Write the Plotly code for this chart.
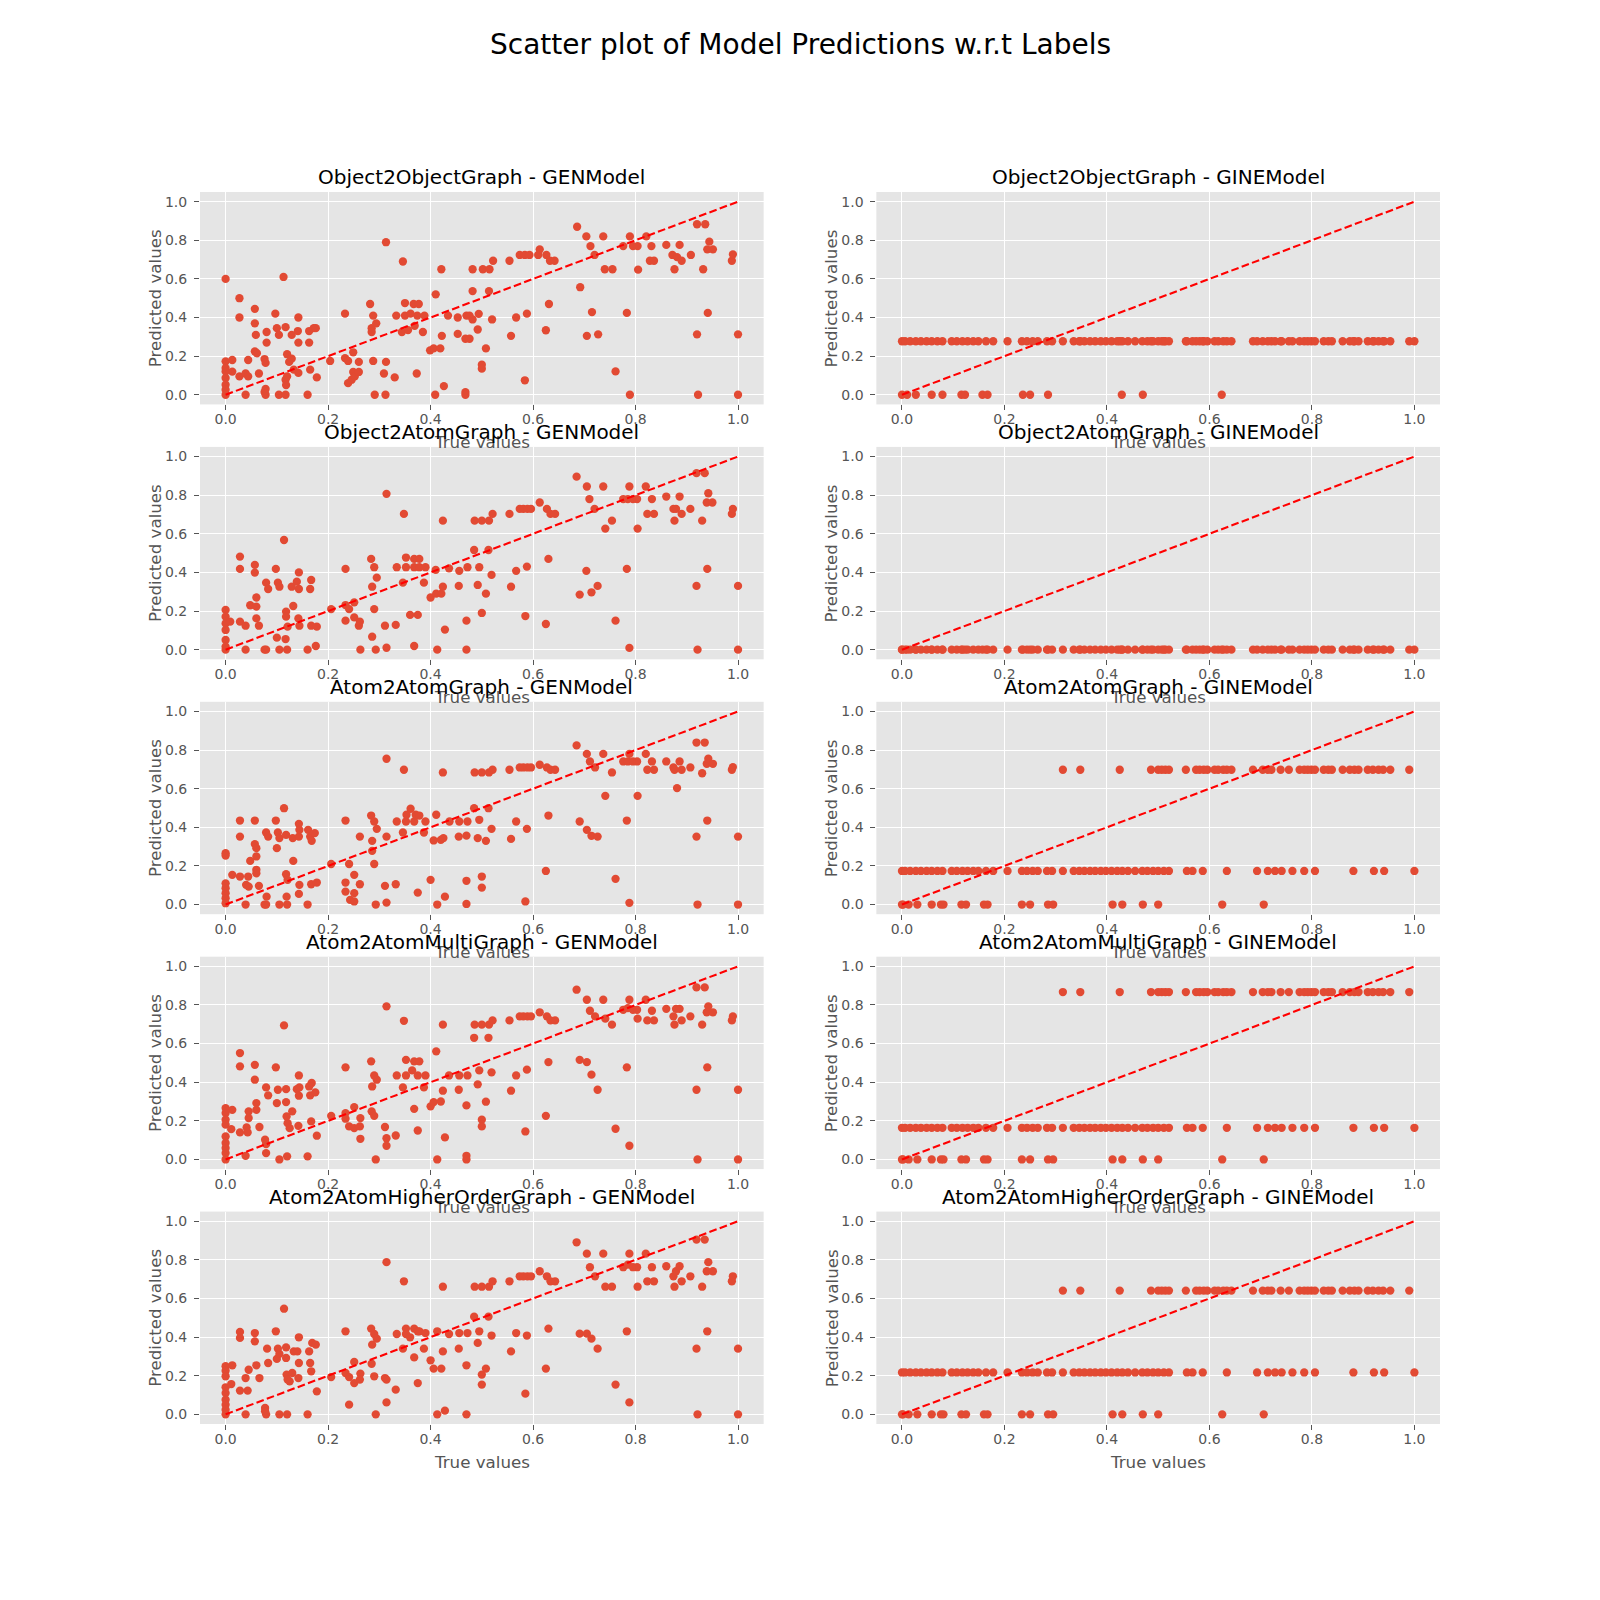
import plotly.graph_objects as go

SUPTITLE = "Scatter plot of Model Predictions w.r.t Labels"
GRAPH_TYPES = [
    "Object2ObjectGraph",
    "Object2AtomGraph",
    "Atom2AtomGraph",
    "Atom2AtomMultiGraph",
    "Atom2AtomHigherOrderGraph",
]
MODELS = ["GENModel", "GINEModel"]
TICK_VALUES = [0.0, 0.2, 0.4, 0.6, 0.8, 1.0]
TICK_LABELS = ["0.0", "0.2", "0.4", "0.6", "0.8", "1.0"]
DIAGONAL = [0.0, 1.0]

# --- GENModel predictions (true value, predicted value) ---
O2O_GEN_X = [
    0.0, 0.0, 0.0, 0.0, 0.0, 0.0, 0.0, 0.0, 0.013, 0.013, 0.027, 0.027, 0.027, 0.039, 0.039, 0.044, 0.044, 0.057, 0.057, 0.057, 0.059, 0.061, 0.065,
    0.076, 0.076, 0.078, 0.078, 0.078, 0.080, 0.080, 0.097, 0.100, 0.104, 0.104, 0.113, 0.117, 0.117, 0.117, 0.118, 0.120, 0.120, 0.124, 0.129, 0.129, 0.133, 0.141, 0.142, 0.142, 0.142,
    0.160, 0.163, 0.163, 0.165, 0.172, 0.176, 0.178, 0.204, 0.233, 0.233, 0.239, 0.239, 0.246, 0.249, 0.249, 0.252, 0.260, 0.260,
    0.282, 0.285, 0.285, 0.288, 0.288, 0.291, 0.294, 0.309, 0.312, 0.313, 0.313, 0.330, 0.333, 0.344, 0.346, 0.350, 0.350, 0.356, 0.361, 0.367, 0.369, 0.373, 0.374, 0.377, 0.385, 0.388,
    0.399, 0.406, 0.409, 0.410, 0.419, 0.421, 0.422, 0.426, 0.434, 0.453, 0.453, 0.468, 0.468, 0.468, 0.470, 0.476, 0.476, 0.482, 0.482, 0.482, 0.492, 0.494, 0.500, 0.500, 0.502, 0.508, 0.514, 0.515, 0.520,
    0.522, 0.554, 0.557, 0.567, 0.574, 0.584, 0.584, 0.588, 0.593, 0.610, 0.613, 0.625, 0.626, 0.631, 0.633, 0.642, 0.686, 0.692, 0.704, 0.705, 0.712, 0.715, 0.720, 0.727, 0.737, 0.740, 0.755, 0.761,
    0.776, 0.783, 0.789, 0.789, 0.795, 0.804, 0.805, 0.821, 0.828, 0.831, 0.836, 0.860, 0.872, 0.876, 0.881, 0.886, 0.890, 0.908, 0.920, 0.920, 0.922, 0.932, 0.936, 0.940, 0.941, 0.944, 0.951, 0.988, 0.990, 1.0, 1.0,
]
O2O_GEN_Y = [
    0.60, 0.173, 0.138, 0.121, 0.087, 0.052, 0.026, 0.0, 0.18, 0.12, 0.50, 0.40, 0.095, 0.11, 0.0, 0.095, 0.18, 0.445, 0.37, 0.225, 0.31, 0.215, 0.11,
    0.185, 0.014, 0.165, 0.0, 0.03, 0.325, 0.27, 0.42, 0.345, 0.31, 0.0, 0.61, 0.35, 0.0, 0.078, 0.05, 0.095, 0.21, 0.17, 0.31, 0.187, 0.13, 0.33, 0.40, 0.27, 0.113,
    0.0, 0.27, 0.33, 0.13, 0.345, 0.345, 0.09, 0.175, 0.42, 0.19, 0.175, 0.06, 0.078, 0.22, 0.118, 0.095, 0.17, 0.118,
    0.47, 0.345, 0.325, 0.41, 0.175, 0.0, 0.37, 0.11, 0.0, 0.79, 0.17, 0.09, 0.41, 0.325, 0.69, 0.475, 0.41, 0.335, 0.42, 0.47, 0.357, 0.11, 0.41, 0.47, 0.325, 0.41,
    0.23, 0.24, 0.0, 0.52, 0.24, 0.65, 0.305, 0.045, 0.41, 0.40, 0.315, 0.29, 0.014, 0.0, 0.41, 0.41, 0.29, 0.537, 0.39, 0.65, 0.338, 0.419, 0.156, 0.135, 0.65, 0.24, 0.537, 0.65, 0.39,
    0.694, 0.694, 0.305, 0.40, 0.724, 0.724, 0.075, 0.42, 0.724, 0.724, 0.753, 0.334, 0.724, 0.47, 0.694, 0.694, 0.87, 0.557, 0.82, 0.305, 0.77, 0.428, 0.724, 0.313, 0.82, 0.65, 0.65, 0.121,
    0.77, 0.424, 0.82, 0.0, 0.77, 0.77, 0.648, 0.82, 0.694, 0.77, 0.694, 0.776, 0.724, 0.65, 0.713, 0.776, 0.694, 0.724, 0.883, 0.313, 0.0, 0.65, 0.883, 0.753, 0.424, 0.793, 0.753, 0.694, 0.727, 0.313, 0.0,
]

O2A_GEN_X = [
    0.0, 0.0, 0.0, 0.0, 0.0, 0.0, 0.0, 0.009, 0.028, 0.028, 0.028, 0.039, 0.039, 0.048, 0.057, 0.057, 0.060, 0.060, 0.060, 0.065,
    0.076, 0.079, 0.079, 0.083, 0.098, 0.100, 0.102, 0.105, 0.105, 0.114, 0.117, 0.118, 0.118, 0.120, 0.121, 0.129, 0.132, 0.139, 0.142, 0.143, 0.143, 0.144,
    0.160, 0.165, 0.167, 0.167, 0.176, 0.178, 0.206, 0.234, 0.234, 0.234, 0.241, 0.251, 0.251, 0.260, 0.262, 0.263,
    0.284, 0.286, 0.286, 0.290, 0.290, 0.293, 0.295, 0.311, 0.314, 0.314, 0.332, 0.334, 0.346, 0.348, 0.352, 0.352, 0.360, 0.368, 0.368, 0.368, 0.375, 0.378, 0.378, 0.387, 0.390,
    0.400, 0.410, 0.411, 0.413, 0.421, 0.424, 0.424, 0.428, 0.436, 0.455, 0.456, 0.470, 0.470, 0.472, 0.485, 0.486, 0.492, 0.495, 0.500, 0.500, 0.508, 0.513, 0.514, 0.519, 0.521,
    0.554, 0.557, 0.567, 0.574, 0.581, 0.585, 0.588, 0.589, 0.596, 0.613, 0.625, 0.627, 0.630, 0.634, 0.643, 0.685, 0.691, 0.704, 0.705, 0.710, 0.714, 0.720, 0.726, 0.737, 0.741, 0.754, 0.761,
    0.776, 0.783, 0.785, 0.788, 0.788, 0.795, 0.803, 0.804, 0.820, 0.823, 0.832, 0.836, 0.860, 0.874, 0.876, 0.879, 0.886, 0.890, 0.907, 0.919, 0.919, 0.921, 0.930, 0.935, 0.939, 0.940, 0.942, 0.950, 0.988, 0.990, 1.0, 1.0,
]
O2A_GEN_Y = [
    0.206, 0.171, 0.136, 0.102, 0.05, 0.016, 0.0, 0.145, 0.482, 0.418, 0.145, 0.124, 0.0, 0.23, 0.439, 0.399, 0.27, 0.223, 0.162, 0.124,
    0.0, 0.347, 0.0, 0.314, 0.418, 0.062, 0.347, 0.326, 0.0, 0.568, 0.055, 0.197, 0.171, 0.0, 0.119, 0.326, 0.226, 0.352, 0.162, 0.40, 0.314, 0.124,
    0.0, 0.314, 0.361, 0.124, 0.019, 0.119, 0.21, 0.418, 0.231, 0.15, 0.21, 0.245, 0.167, 0.124, 0.145, 0.0,
    0.47, 0.326, 0.067, 0.427, 0.21, 0.0, 0.373, 0.124, 0.807, 0.01, 0.128, 0.427, 0.347, 0.703, 0.477, 0.427, 0.18, 0.47, 0.427, 0.019, 0.18, 0.47, 0.427, 0.347, 0.427,
    0.27, 0.413, 0.29, 0.0, 0.29, 0.668, 0.326, 0.104, 0.421, 0.33, 0.408, 0.15, 0.0, 0.427, 0.516, 0.668, 0.335, 0.427, 0.668, 0.19, 0.29, 0.516, 0.668, 0.387, 0.703,
    0.703, 0.326, 0.408, 0.729, 0.729, 0.174, 0.43, 0.729, 0.729, 0.762, 0.133, 0.729, 0.47, 0.703, 0.703, 0.896, 0.285, 0.408, 0.845, 0.78, 0.297, 0.729, 0.33, 0.845, 0.627, 0.668, 0.15,
    0.78, 0.418, 0.78, 0.845, 0.009, 0.78, 0.78, 0.627, 0.845, 0.703, 0.78, 0.703, 0.793, 0.729, 0.668, 0.729, 0.793, 0.703, 0.729, 0.914, 0.33, 0.0, 0.668, 0.914, 0.762, 0.418, 0.81, 0.762, 0.703, 0.729, 0.33, 0.0,
]

A2A_GEN_X = [
    0.0, 0.0, 0.0, 0.0, 0.0, 0.0, 0.0, 0.013, 0.028, 0.028, 0.028, 0.039, 0.040, 0.044, 0.045, 0.048, 0.057, 0.057, 0.060, 0.060, 0.060, 0.060, 0.065,
    0.076, 0.079, 0.079, 0.080, 0.083, 0.098, 0.100, 0.102, 0.105, 0.105, 0.114, 0.118, 0.118, 0.119, 0.120, 0.121, 0.131, 0.132, 0.143, 0.143, 0.143, 0.144, 0.144,
    0.160, 0.161, 0.165, 0.167, 0.168, 0.174, 0.178, 0.206, 0.234, 0.234, 0.234, 0.241, 0.243, 0.251, 0.251, 0.251, 0.262, 0.262,
    0.284, 0.286, 0.286, 0.290, 0.290, 0.293, 0.295, 0.311, 0.314, 0.314, 0.314, 0.332, 0.334, 0.346, 0.348, 0.352, 0.353, 0.361, 0.368, 0.371, 0.375, 0.378, 0.387, 0.390,
    0.400, 0.406, 0.411, 0.413, 0.420, 0.424, 0.425, 0.428, 0.437, 0.455, 0.456, 0.470, 0.470, 0.470, 0.472, 0.485, 0.486, 0.492, 0.495, 0.500, 0.500, 0.500, 0.508, 0.513, 0.514, 0.519, 0.521,
    0.554, 0.557, 0.567, 0.574, 0.581, 0.585, 0.588, 0.589, 0.596, 0.613, 0.625, 0.627, 0.630, 0.634, 0.643, 0.685, 0.691, 0.705, 0.705, 0.711, 0.714, 0.721, 0.726, 0.737, 0.741, 0.754, 0.761,
    0.776, 0.783, 0.785, 0.788, 0.788, 0.795, 0.803, 0.804, 0.820, 0.823, 0.832, 0.836, 0.860, 0.874, 0.876, 0.881, 0.886, 0.890, 0.907, 0.919, 0.919, 0.921, 0.930, 0.935, 0.939, 0.940, 0.942, 0.951, 0.988, 0.990, 1.0, 1.0,
]
A2A_GEN_Y = [
    0.266, 0.254, 0.11, 0.085, 0.059, 0.033, 0.007, 0.154, 0.435, 0.352, 0.145, 0.0, 0.102, 0.145, 0.093, 0.226, 0.435, 0.313, 0.292, 0.249, 0.18, 0.162, 0.097,
    0.0, 0.373, 0.0, 0.041, 0.352, 0.435, 0.292, 0.373, 0.344, 0.0, 0.499, 0.361, 0.157, 0.041, 0.0, 0.128, 0.344, 0.226, 0.418, 0.352, 0.055, 0.387, 0.102,
    0.0, 0.387, 0.352, 0.105, 0.33, 0.37, 0.114, 0.21, 0.435, 0.114, 0.067, 0.21, 0.024, 0.154, 0.059, 0.016, 0.352, 0.105,
    0.461, 0.33, 0.278, 0.43, 0.21, 0.0, 0.392, 0.097, 0.755, 0.352, 0.01, 0.105, 0.43, 0.373, 0.698, 0.43, 0.465, 0.496, 0.43, 0.465, 0.062, 0.461, 0.373, 0.43,
    0.128, 0.332, 0.465, 0.0, 0.335, 0.684, 0.344, 0.041, 0.43, 0.352, 0.43, 0.357, 0.123, 0.003, 0.43, 0.499, 0.684, 0.344, 0.439, 0.684, 0.145, 0.088, 0.33, 0.499, 0.684, 0.392, 0.698,
    0.698, 0.34, 0.43, 0.71, 0.71, 0.016, 0.392, 0.71, 0.71, 0.724, 0.174, 0.71, 0.461, 0.698, 0.698, 0.824, 0.43, 0.78, 0.387, 0.741, 0.356, 0.71, 0.352, 0.78, 0.563, 0.684, 0.133,
    0.741, 0.435, 0.741, 0.78, 0.009, 0.741, 0.741, 0.563, 0.78, 0.698, 0.741, 0.698, 0.741, 0.71, 0.698, 0.603, 0.741, 0.698, 0.71, 0.839, 0.352, 0.0, 0.68, 0.839, 0.729, 0.435, 0.755, 0.729, 0.698, 0.712, 0.352, 0.0,
]

A2AM_GEN_X = [
    0.0, 0.0, 0.0, 0.0, 0.0, 0.0, 0.0, 0.0, 0.0, 0.011, 0.013, 0.028, 0.028, 0.028, 0.039, 0.041, 0.043, 0.045, 0.045, 0.057, 0.057, 0.060, 0.060, 0.066,
    0.077, 0.079, 0.079, 0.079, 0.083, 0.098, 0.100, 0.102, 0.105, 0.114, 0.118, 0.118, 0.119, 0.120, 0.121, 0.125, 0.130, 0.139, 0.142, 0.143, 0.143, 0.144,
    0.160, 0.163, 0.165, 0.167, 0.168, 0.175, 0.178, 0.206, 0.234, 0.234, 0.234, 0.241, 0.251, 0.251, 0.262, 0.263, 0.263,
    0.284, 0.285, 0.286, 0.290, 0.290, 0.293, 0.295, 0.311, 0.314, 0.314, 0.314, 0.332, 0.334, 0.346, 0.348, 0.352, 0.352, 0.364, 0.368, 0.368, 0.375, 0.375, 0.378, 0.387, 0.390,
    0.400, 0.406, 0.411, 0.413, 0.420, 0.424, 0.424, 0.428, 0.436, 0.455, 0.456, 0.470, 0.470, 0.470, 0.472, 0.485, 0.486, 0.492, 0.495, 0.500, 0.500, 0.500, 0.508, 0.513, 0.514, 0.519, 0.521,
    0.554, 0.557, 0.567, 0.574, 0.581, 0.585, 0.588, 0.589, 0.596, 0.613, 0.625, 0.627, 0.630, 0.634, 0.643, 0.685, 0.691, 0.705, 0.705, 0.711, 0.714, 0.721, 0.726, 0.737, 0.741, 0.754, 0.761,
    0.776, 0.783, 0.785, 0.788, 0.788, 0.795, 0.803, 0.804, 0.820, 0.823, 0.832, 0.836, 0.860, 0.874, 0.876, 0.879, 0.886, 0.890, 0.907, 0.919, 0.919, 0.921, 0.930, 0.935, 0.939, 0.940, 0.942, 0.951, 0.988, 0.990, 1.0, 1.0,
]
A2AM_GEN_Y = [
    0.266, 0.24, 0.206, 0.18, 0.119, 0.085, 0.059, 0.033, 0.0, 0.157, 0.257, 0.551, 0.482, 0.14, 0.019, 0.166, 0.14, 0.249, 0.214, 0.49, 0.413, 0.292, 0.257, 0.168,
    0.102, 0.373, 0.079, 0.033, 0.332, 0.477, 0.292, 0.361, 0.0, 0.694, 0.364, 0.297, 0.223, 0.016, 0.188, 0.162, 0.249, 0.364, 0.174, 0.435, 0.33, 0.373,
    0.016, 0.378, 0.332, 0.197, 0.396, 0.347, 0.123, 0.226, 0.477, 0.24, 0.211, 0.171, 0.271, 0.162, 0.171, 0.214, 0.107,
    0.508, 0.249, 0.378, 0.435, 0.226, 0.0, 0.413, 0.168, 0.793, 0.11, 0.071, 0.124, 0.435, 0.373, 0.718, 0.516, 0.435, 0.461, 0.508, 0.262, 0.435, 0.15, 0.508, 0.373, 0.435,
    0.275, 0.297, 0.56, 0.0, 0.3, 0.698, 0.356, 0.114, 0.435, 0.361, 0.435, 0.28, 0.019, 0.0, 0.435, 0.63, 0.698, 0.389, 0.461, 0.698, 0.206, 0.171, 0.299, 0.63, 0.698, 0.451, 0.72,
    0.72, 0.356, 0.435, 0.741, 0.741, 0.145, 0.465, 0.741, 0.741, 0.762, 0.226, 0.741, 0.504, 0.72, 0.72, 0.879, 0.516, 0.827, 0.504, 0.77, 0.439, 0.741, 0.361, 0.827, 0.729, 0.698, 0.159,
    0.775, 0.477, 0.784, 0.827, 0.071, 0.775, 0.775, 0.729, 0.827, 0.72, 0.77, 0.72, 0.78, 0.741, 0.698, 0.78, 0.78, 0.72, 0.741, 0.891, 0.361, 0.0, 0.698, 0.891, 0.762, 0.477, 0.793, 0.762, 0.72, 0.741, 0.361, 0.0,
]

A2AH_GEN_X = [
    0.0, 0.0, 0.0, 0.0, 0.0, 0.0, 0.0, 0.0, 0.0, 0.011, 0.013, 0.028, 0.028, 0.028, 0.039, 0.039, 0.043, 0.045, 0.057, 0.057, 0.060, 0.066,
    0.077, 0.077, 0.079, 0.081, 0.083, 0.098, 0.100, 0.102, 0.105, 0.105, 0.114, 0.118, 0.118, 0.119, 0.120, 0.121, 0.125, 0.130, 0.133, 0.140, 0.142, 0.143, 0.143,
    0.160, 0.163, 0.165, 0.167, 0.169, 0.176, 0.178, 0.206, 0.234, 0.234, 0.241, 0.241, 0.251, 0.251, 0.262, 0.263,
    0.284, 0.285, 0.286, 0.290, 0.290, 0.293, 0.295, 0.311, 0.314, 0.314, 0.314, 0.332, 0.334, 0.346, 0.348, 0.352, 0.352, 0.360, 0.368, 0.368, 0.375, 0.375, 0.378, 0.387, 0.390,
    0.400, 0.406, 0.413, 0.413, 0.421, 0.424, 0.424, 0.428, 0.436, 0.455, 0.456, 0.470, 0.470, 0.472, 0.485, 0.486, 0.492, 0.495, 0.500, 0.500, 0.500, 0.508, 0.513, 0.514, 0.519, 0.521,
    0.554, 0.557, 0.567, 0.574, 0.581, 0.585, 0.588, 0.589, 0.596, 0.613, 0.625, 0.627, 0.630, 0.634, 0.643, 0.685, 0.691, 0.705, 0.705, 0.711, 0.714, 0.721, 0.726, 0.737, 0.741, 0.754, 0.761,
    0.776, 0.783, 0.785, 0.788, 0.788, 0.795, 0.803, 0.804, 0.820, 0.823, 0.832, 0.836, 0.860, 0.874, 0.876, 0.879, 0.886, 0.890, 0.907, 0.919, 0.919, 0.921, 0.930, 0.935, 0.939, 0.940, 0.942, 0.951, 0.988, 0.990, 1.0, 1.0,
]
A2AH_GEN_Y = [
    0.249, 0.226, 0.197, 0.14, 0.11, 0.076, 0.05, 0.024, 0.0, 0.157, 0.254, 0.427, 0.396, 0.123, 0.188, 0.0, 0.123, 0.231, 0.421, 0.378, 0.254, 0.188,
    0.033, 0.016, 0.0, 0.34, 0.266, 0.43, 0.287, 0.34, 0.313, 0.0, 0.547, 0.347, 0.292, 0.206, 0.0, 0.18, 0.171, 0.214, 0.326, 0.326, 0.188, 0.399, 0.266,
    0.0, 0.326, 0.266, 0.223, 0.37, 0.361, 0.119, 0.193, 0.43, 0.214, 0.193, 0.05, 0.271, 0.162, 0.18, 0.211,
    0.444, 0.262, 0.361, 0.416, 0.197, 0.0, 0.392, 0.188, 0.788, 0.18, 0.062, 0.128, 0.416, 0.34, 0.689, 0.444, 0.416, 0.399, 0.444, 0.295, 0.43, 0.162, 0.43, 0.34, 0.421,
    0.28, 0.237, 0.43, 0.0, 0.237, 0.661, 0.326, 0.019, 0.416, 0.34, 0.421, 0.254, 0.0, 0.421, 0.506, 0.661, 0.37, 0.43, 0.661, 0.206, 0.154, 0.237, 0.506, 0.661, 0.408, 0.689,
    0.689, 0.326, 0.421, 0.715, 0.715, 0.107, 0.408, 0.715, 0.715, 0.741, 0.237, 0.715, 0.444, 0.689, 0.689, 0.891, 0.418, 0.832, 0.418, 0.762, 0.392, 0.715, 0.34, 0.832, 0.661, 0.661, 0.154,
    0.762, 0.43, 0.775, 0.832, 0.062, 0.762, 0.762, 0.661, 0.832, 0.689, 0.762, 0.689, 0.767, 0.715, 0.661, 0.741, 0.767, 0.689, 0.715, 0.905, 0.34, 0.0, 0.661, 0.905, 0.741, 0.43, 0.788, 0.741, 0.689, 0.715, 0.34, 0.0,
]

# --- GINEModel predictions collapse onto a few constant levels ---
O2O_GINE_LEVELS = [0.277, 0.0]
O2O_GINE_UPPER_X = [
    0.0, 0.006, 0.016, 0.027, 0.037, 0.048, 0.058, 0.069, 0.079, 0.097, 0.107, 0.118, 0.128, 0.139, 0.149, 0.164, 0.178,
    0.206, 0.234, 0.244, 0.255, 0.265, 0.283, 0.293, 0.314, 0.335, 0.346, 0.348, 0.356, 0.367, 0.377, 0.388, 0.398,
    0.409, 0.42, 0.425, 0.43, 0.441, 0.455, 0.469, 0.479, 0.486, 0.49, 0.5, 0.507, 0.511, 0.514, 0.521, 0.554, 0.556,
    0.567, 0.574, 0.581, 0.587, 0.589, 0.596, 0.61, 0.617, 0.627, 0.634, 0.643, 0.685, 0.693, 0.704, 0.714, 0.721,
    0.728, 0.739, 0.741, 0.755, 0.762, 0.776, 0.785, 0.792, 0.799, 0.806, 0.823, 0.832, 0.839, 0.86, 0.874, 0.881,
    0.883, 0.891, 0.909, 0.919, 0.921, 0.93, 0.939, 0.941, 0.953, 0.99, 1.0,
]
O2O_GINE_ZERO_X = [0.0, 0.01, 0.027, 0.058, 0.079, 0.116, 0.123, 0.157, 0.167, 0.236, 0.25, 0.285, 0.429, 0.47, 0.624]

O2A_GINE_LEVELS = [0.0]
O2A_GINE_ZERO_X = sorted(O2O_GINE_UPPER_X + O2O_GINE_ZERO_X)

A2A_GINE_LEVELS = [0.698, 0.174, 0.0]
A2AM_GINE_LEVELS = [0.867, 0.164, 0.0]
A2AH_GINE_LEVELS = [0.641, 0.217, 0.0]
ATOM_GINE_HIGH_X = [
    0.314, 0.348, 0.425, 0.486, 0.5, 0.507, 0.514, 0.521, 0.554, 0.574, 0.581, 0.589, 0.596, 0.61, 0.617, 0.627, 0.634,
    0.643, 0.685, 0.704, 0.714, 0.721, 0.739, 0.755, 0.776, 0.785, 0.792, 0.799, 0.806, 0.823, 0.832, 0.839, 0.86,
    0.874, 0.883, 0.891, 0.909, 0.919, 0.93, 0.939, 0.953, 0.99,
]
ATOM_GINE_MID_X = [
    0.0, 0.006, 0.016, 0.027, 0.037, 0.048, 0.058, 0.069, 0.079, 0.097, 0.107, 0.118, 0.128, 0.139, 0.149, 0.164, 0.178,
    0.206, 0.234, 0.244, 0.255, 0.265, 0.283, 0.293, 0.314, 0.335, 0.346, 0.356, 0.367, 0.377, 0.388, 0.398, 0.409,
    0.42, 0.43, 0.441, 0.455, 0.469, 0.479, 0.49, 0.5, 0.511, 0.521, 0.556, 0.567, 0.587, 0.634, 0.693, 0.714, 0.728,
    0.741, 0.762, 0.785, 0.806, 0.881, 0.921, 0.941, 1.0,
]
ATOM_GINE_ZERO_X = [
    0.0, 0.002, 0.013, 0.03, 0.058, 0.076, 0.081, 0.116, 0.125, 0.16, 0.167, 0.234, 0.25, 0.285, 0.295, 0.411, 0.43,
    0.47, 0.5, 0.625, 0.706,
]

GEN_SERIES = {
    "Object2ObjectGraph": (O2O_GEN_X, O2O_GEN_Y),
    "Object2AtomGraph": (O2A_GEN_X, O2A_GEN_Y),
    "Atom2AtomGraph": (A2A_GEN_X, A2A_GEN_Y),
    "Atom2AtomMultiGraph": (A2AM_GEN_X, A2AM_GEN_Y),
    "Atom2AtomHigherOrderGraph": (A2AH_GEN_X, A2AH_GEN_Y),
}
GINE_SERIES = {
    "Object2ObjectGraph": (O2O_GINE_LEVELS, [O2O_GINE_UPPER_X, O2O_GINE_ZERO_X]),
    "Object2AtomGraph": (O2A_GINE_LEVELS, [O2A_GINE_ZERO_X]),
    "Atom2AtomGraph": (A2A_GINE_LEVELS, [ATOM_GINE_HIGH_X, ATOM_GINE_MID_X, ATOM_GINE_ZERO_X]),
    "Atom2AtomMultiGraph": (A2AM_GINE_LEVELS, [ATOM_GINE_HIGH_X, ATOM_GINE_MID_X, ATOM_GINE_ZERO_X]),
    "Atom2AtomHigherOrderGraph": (A2AH_GINE_LEVELS, [ATOM_GINE_HIGH_X, ATOM_GINE_MID_X, ATOM_GINE_ZERO_X]),
}

for name, (xs, ys) in GEN_SERIES.items():
    assert len(xs) == len(ys), name

# matplotlib ggplot-like look, 16x16 in figure at 100 dpi
POINT_COLOR = "#E24A33"
PANEL_BG = "#E5E5E5"
TEXT_GREY = "#555555"
FONT = "DejaVu Sans"

# subplot geometry (fractions of the page) mirroring plt.subplots(5, 2) defaults;
# the page body adds ~8px of margin, so everything is nudged up/left by that much
PAGE_SHIFT = 8 / 1600
LEFT, RIGHT, BOTTOM, TOP = 0.125, 0.9, 0.11, 0.88
PANEL_W = (RIGHT - LEFT) / 2.2
PANEL_H = (TOP - BOTTOM) / 5.8


def panel_domain(row, col):
    x0 = LEFT - PAGE_SHIFT + col * PANEL_W * 1.2
    top = TOP + PAGE_SHIFT - row * PANEL_H * 1.2
    return [x0, x0 + PANEL_W], [top - PANEL_H, top]


fig = go.Figure()
annotations = []
titles = []

for row, graph in enumerate(GRAPH_TYPES):
    for col, model in enumerate(MODELS):
        k = row * 2 + col + 1
        suffix = "" if k == 1 else str(k)
        xdom, ydom = panel_domain(row, col)

        if model == "GENModel":
            xs, ys = GEN_SERIES[graph]
            point_sets = [(xs, ys)]
        else:
            levels, xsets = GINE_SERIES[graph]
            point_sets = [(xset, [level] * len(xset)) for level, xset in zip(levels, xsets)]

        for xs, ys in point_sets:
            fig.add_trace(
                go.Scatter(
                    x=xs,
                    y=ys,
                    mode="markers",
                    marker=dict(color=POINT_COLOR, size=8.3, line=dict(width=0)),
                    xaxis="x" + suffix,
                    yaxis="y" + suffix,
                    showlegend=False,
                    hoverinfo="skip",
                )
            )
        fig.add_trace(
            go.Scatter(
                x=DIAGONAL,
                y=DIAGONAL,
                mode="lines",
                line=dict(color="red", width=2.1, dash="7.7px,3.3px"),
                xaxis="x" + suffix,
                yaxis="y" + suffix,
                showlegend=False,
                hoverinfo="skip",
            )
        )

        axis_common = dict(
            range=[-0.05, 1.05],
            tickmode="array",
            tickvals=TICK_VALUES,
            ticktext=TICK_LABELS,
            ticks="outside",
            ticklen=5,
            tickwidth=1.1,
            tickcolor=TEXT_GREY,
            tickfont=dict(family=FONT, size=14, color=TEXT_GREY),
            showgrid=True,
            gridcolor="white",
            gridwidth=1.1,
            zeroline=False,
            showline=False,
            fixedrange=True,
        )
        fig.update_layout(
            {
                "xaxis" + suffix: dict(axis_common, domain=xdom, anchor="y" + suffix, ticklabelstandoff=-3),
                "yaxis" + suffix: dict(axis_common, domain=ydom, anchor="x" + suffix, ticklabelstandoff=4),
            }
        )

        xmid = (xdom[0] + xdom[1]) / 2
        annotations.append(
            dict(
                text="True values", x=xmid, y=ydom[0], xref="paper", yref="paper",
                xanchor="center", yanchor="middle", yshift=-38, showarrow=False,
                font=dict(family=FONT, size=16.7, color=TEXT_GREY),
            )
        )
        annotations.append(
            dict(
                text="Predicted values", x=xdom[0], y=(ydom[0] + ydom[1]) / 2,
                xref="paper", yref="paper", xanchor="center", yanchor="middle",
                xshift=-45, textangle=-90, showarrow=False,
                font=dict(family=FONT, size=16.7, color=TEXT_GREY),
            )
        )
        titles.append(
            dict(
                text=f"{graph} - {model}", x=xmid, y=ydom[1], xref="paper", yref="paper",
                xanchor="center", yanchor="bottom", yshift=1, showarrow=False,
                font=dict(family=FONT, size=20, color="black"),
            )
        )

annotations.append(
    dict(
        text=SUPTITLE, x=0.5 - PAGE_SHIFT, y=1 - 37 / 1600, xref="paper", yref="paper",
        xanchor="center", yanchor="middle", showarrow=False,
        font=dict(family=FONT, size=28, color="black"),
    )
)

fig.update_layout(
    width=1600,
    height=1600,
    margin=dict(l=0, r=0, t=0, b=0),
    paper_bgcolor="white",
    plot_bgcolor=PANEL_BG,
    showlegend=False,
    font=dict(family=FONT),
    annotations=annotations + titles,
)

fig.write_html("out.html")
